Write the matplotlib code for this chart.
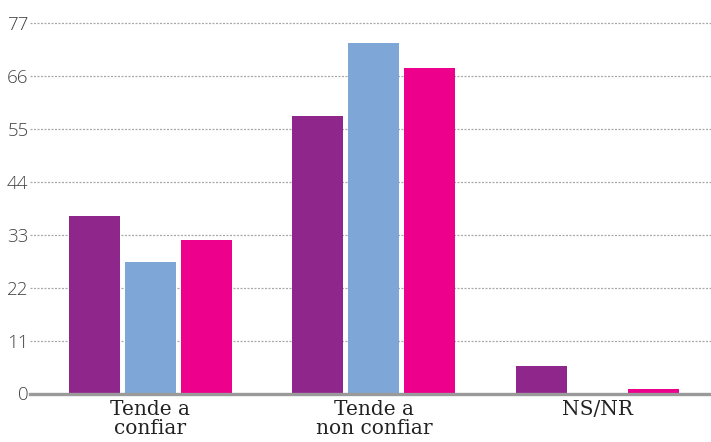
import matplotlib
matplotlib.use("Agg")
import matplotlib.pyplot as plt
import numpy as np

categories = ["Tende a\nconfiar", "Tende a\nnon confiar", "NS/NR"]
series_a = [36.9, 57.7, 5.8]
series_b = [27.3, 72.8, 0.0]
series_c = [31.9, 67.6, 1.0]
colors = ["#8E268C", "#7EA7D8", "#EC008C"]
yticks = [0, 11, 22, 33, 44, 55, 66, 77]

fig = plt.figure(figsize=(7.11, 4.42), dpi=100)
ax = fig.add_axes([30/711, (442-393.5)/442, 681/711, (393.5-23)/442])

x = np.arange(len(categories))
w = 0.228
off = 0.2506
for i, (vals, c) in enumerate(zip([series_a, series_b, series_c], colors)):
    ax.bar(x + (i-1)*off, vals, width=w, color=c, zorder=3)

ax.set_xlim(-0.539, 2.508)
ax.set_ylim(0, 77)
ax.set_yticks(yticks)
ax.set_yticklabels([str(t) for t in yticks], family="Open Sans", fontweight="light",
                   fontsize=13.5, color="#444444")
ax.tick_params(axis="y", length=0, pad=1)
for t in yticks[1:]:
    ax.axhline(t, color="#a8a8a8", linestyle=(0, (1.6, 1.2)), linewidth=0.9, zorder=1, clip_on=False)
ax.axhline(0, color="#9a9a9a", linewidth=2.4, zorder=4, clip_on=False)

ax.set_xticks(x)
ax.set_xticklabels(categories, family="DejaVu Serif", fontsize=14.5, color="#222222",
                   linespacing=0.98)
ax.tick_params(axis="x", length=0, pad=5)
for s in ax.spines.values():
    s.set_visible(False)

fig.savefig("out.png", dpi=100)
